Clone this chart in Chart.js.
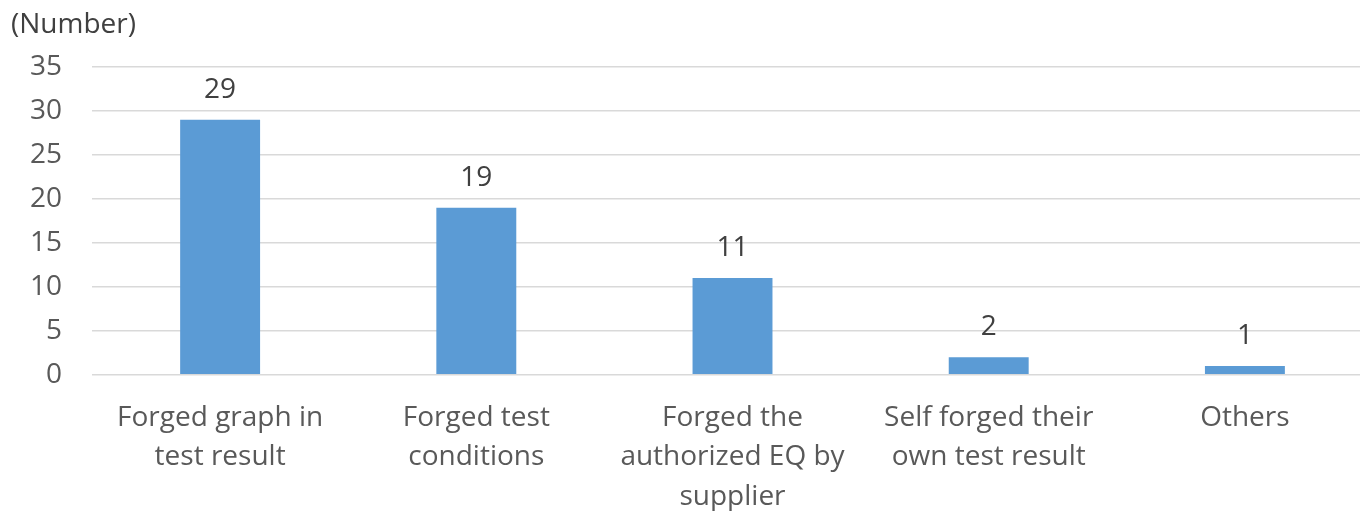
<!DOCTYPE html>
<html>
<head>
<meta charset="utf-8">
<script src="https://cdn.jsdelivr.net/npm/chart.js@4/dist/chart.umd.min.js"></script>
<style>
  html, body { margin: 0; padding: 0; background: #fff; overflow: hidden; }
  #wrap { position: relative; width: 1380px; height: 511px; }
</style>
</head>
<body>
<div id="wrap"><canvas id="c"></canvas></div>
<script>
// Misconduct types and number of cases
const categories = [
  ["Forged graph in", "test result"],
  ["Forged test", "conditions"],
  ["Forged the", "authorized EQ by", "supplier"],
  ["Self forged their", "own test result"],
  ["Others"]
];
const caseCounts = [29, 19, 11, 2, 1];
const yTicks = [0, 5, 10, 15, 20, 25, 30, 35];
const unitLabel = "(Number)";

const FONT = "'Open Sans', 'Noto Sans', sans-serif";

// Value labels above each bar, plus the unit caption in the top-left corner
const annotate = {
  id: 'annotate',
  afterDatasetsDraw(chart) {
    const ctx = chart.ctx;
    ctx.save();
    ctx.font = `28px ${FONT}`;
    ctx.fillStyle = '#404040';
    ctx.textAlign = 'center';
    ctx.textBaseline = 'middle';
    const meta = chart.getDatasetMeta(0);
    meta.data.forEach((bar, i) => {
      ctx.fillText(String(chart.data.datasets[0].data[i]), bar.x, bar.y - 30);
    });
    ctx.textAlign = 'left';
    ctx.fillText(unitLabel, 11, 25);
    ctx.restore();
  }
};

new Chart(document.getElementById('c'), {
  type: 'bar',
  data: {
    labels: categories,
    datasets: [{
      data: caseCounts,
      backgroundColor: '#5B9BD5',
      borderWidth: 0,
      categoryPercentage: 1,
      barPercentage: 0.312
    }]
  },
  options: {
    responsive: true,
    maintainAspectRatio: false,
    animation: false,
    layout: { padding: { top: 67, right: 7, bottom: -29, left: 0 } },
    plugins: { legend: { display: false }, tooltip: { enabled: false }, title: { display: false } },
    scales: {
      x: {
        grid: { display: false, tickLength: 0 },
        border: { display: false },
        ticks: {
          color: '#595959',
          font: { family: FONT, size: 28, lineHeight: 1.42 },
          padding: 23,
          maxRotation: 0,
          autoSkip: false
        }
      },
      y: {
        min: 0,
        max: 35,
        afterBuildTicks(scale) { scale.ticks = yTicks.map(v => ({ value: v })); },
        grid: { color: '#d9d9d9', lineWidth: 1.5, drawTicks: false },
        border: { display: false },
        ticks: {
          color: '#595959',
          font: { family: FONT, size: 28 },
          padding: 30
        }
      }
    }
  },
  plugins: [annotate]
});
</script>
</body>
</html>
